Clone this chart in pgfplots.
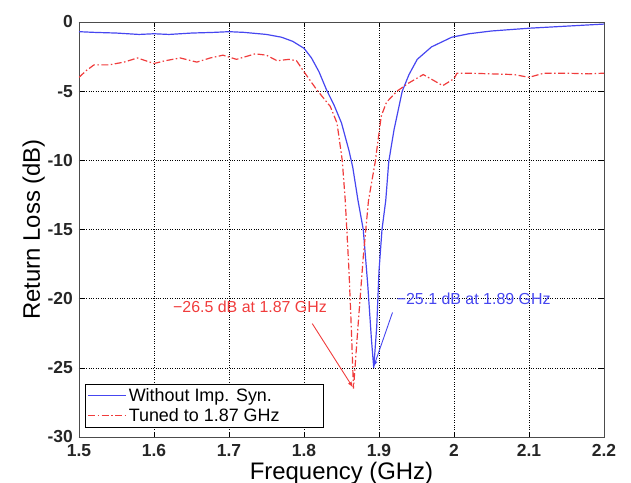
\documentclass[border=0pt]{standalone}
\usepackage{fontspec}
\setmainfont{Liberation Sans}
\usepackage{pgfplots}
\pgfplotsset{compat=1.18}
\definecolor{rlblue}{RGB}{70,70,240}
\definecolor{rlred}{RGB}{240,60,60}

\begin{document}
\begin{tikzpicture}
\begin{axis}[
    scale only axis,
    width=525bp, height=415bp,
    xmin=1.5, xmax=2.2, ymin=-30, ymax=0,
    xtick={1.5,1.6,...,2.2},
    ytick={-30,-25,...,0},
    xticklabels={1.5,1.6,1.7,1.8,1.9,2,2.1,2.2},
    yticklabels={-30,-25,-20,-15,-10,-5,0},
    tick align=inside,
    major tick length=5bp,
    axis line style={black!70, line width=0.8pt},
    every tick/.style={black, line width=0.6pt},
    grid=major,
    major grid style={black, dotted, line width=0.6pt},
    tick label style={font=\fontsize{17.5}{17.5}\selectfont\bfseries, text=black!85},
    xticklabel style={anchor=base, inner sep=0pt, yshift=-20bp},
    yticklabel style={anchor=east, inner sep=0pt, xshift=-6bp},
    label style={font=\fontsize{24}{24}\selectfont},
    xlabel={Frequency (GHz)},
    ylabel={Return Loss (dB)},
    xlabel style={at={(rel axis cs:0.5,0)}, anchor=base, inner sep=0pt, yshift=-42bp},
    ylabel style={at={(rel axis cs:0,0.5)}, anchor=base, yshift=39bp},
    legend style={at={(rel axis cs:0.011,0.022)}, anchor=south west,
      draw=black, line width=0.6pt, inner sep=2.5pt,
      font=\fontsize{18}{20}\selectfont, row sep=1.5pt},
    legend cell align=left,
    legend image code/.code={\draw (0bp,0bp) -- (38bp,0bp);},
]
\addplot[rlblue, line width=1.2pt] coordinates {
(1.50,-0.7) (1.52,-0.75) (1.55,-0.8) (1.58,-0.9) (1.60,-0.85) (1.62,-0.9)
(1.65,-0.8) (1.68,-0.75) (1.70,-0.7) (1.72,-0.75) (1.75,-0.9) (1.77,-1.1)
(1.785,-1.4) (1.80,-1.9) (1.81,-2.6) (1.82,-3.6) (1.83,-4.9) (1.84,-6.0)
(1.85,-7.3) (1.86,-9.3) (1.865,-10.5) (1.872,-12.9) (1.879,-15) (1.885,-19)
(1.89,-23) (1.893,-25.0) (1.897,-22) (1.90,-18) (1.904,-15) (1.909,-12.9)
(1.913,-10.1) (1.92,-7.8) (1.931,-5.0) (1.94,-3.8) (1.951,-2.7) (1.97,-1.8)
(1.997,-1.1) (2.02,-0.85) (2.05,-0.65) (2.10,-0.45) (2.15,-0.3) (2.20,-0.15)
};
\addlegendentry{\makebox[190bp][l]{Without Imp. Syn.}}
\addplot[rlred, line width=1.2pt, dash pattern=on 7pt off 2.5pt on 1.5pt off 2.5pt] coordinates {
(1.50,-4.0) (1.51,-3.5) (1.52,-3.1) (1.54,-3.1) (1.56,-2.9) (1.578,-2.6)
(1.60,-3.0) (1.615,-2.8) (1.635,-2.6) (1.657,-2.9) (1.675,-2.6) (1.692,-2.4)
(1.71,-2.7) (1.735,-2.3) (1.75,-2.4) (1.764,-2.8) (1.78,-2.7) (1.79,-2.8)
(1.80,-3.6) (1.817,-4.9) (1.835,-6.1) (1.844,-7.3) (1.851,-10) (1.855,-12.9)
(1.86,-18) (1.863,-22) (1.866,-26.5) (1.872,-22) (1.879,-17) (1.886,-12.9)
(1.895,-10.1) (1.903,-6.8) (1.91,-5.8) (1.924,-5.0) (1.94,-4.4) (1.959,-3.8)
(1.972,-4.2) (1.985,-4.6) (2.00,-4.1) (2.004,-3.7) (2.02,-3.7) (2.05,-3.75)
(2.08,-3.8) (2.10,-4.0) (2.12,-3.7) (2.15,-3.7) (2.18,-3.75) (2.20,-3.7)
};
\addlegendentry{Tuned to 1.87 GHz}
\node[rlred, font=\fontsize{16}{16}\selectfont] at (axis cs:1.728,-20.6) {−26.5 dB at 1.87 GHz};
\draw[rlred, line width=0.9pt, -{latex}] (axis cs:1.811,-21.8) -- (axis cs:1.865,-26.4);
\node[rlblue, font=\fontsize{16}{16}\selectfont, anchor=west, inner sep=0pt] at (axis cs:1.9235,-20.0) {−25.1 dB at 1.89 GHz};
\draw[rlblue, line width=0.9pt, -{latex}] (axis cs:1.918,-21.0) -- (axis cs:1.893,-24.9);
\coordinate (ll) at (rel axis cs:0,0);
\coordinate (ur) at (rel axis cs:1,1);
\end{axis}
\pgfresetboundingbox
\path (ll) ++(-79bp,-46bp) coordinate (a);
\path (ur) ++(27bp,22bp) coordinate (b);
\useasboundingbox (a) rectangle (b);
\end{tikzpicture}
\end{document}
